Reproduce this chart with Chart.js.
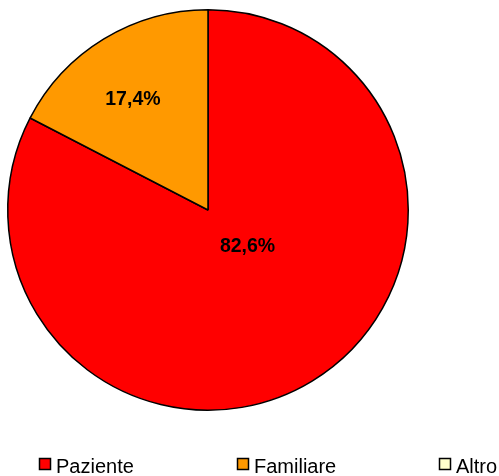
<!DOCTYPE html>
<html>
<head>
<meta charset="utf-8">
<script src="https://cdn.jsdelivr.net/npm/chart.js@4/dist/chart.umd.min.js"></script>
<style>
  html, body { margin: 0; padding: 0; background: #fff; }
  canvas { display: block; }
</style>
</head>
<body>
<canvas id="pieChart" width="499" height="476"></canvas>
<script>
// chart data
const categories = ['Paziente', 'Familiare', 'Altro'];
const percentages = [82.6, 17.4, 0];
const sliceColors = ['#FF0000', '#FF9900', '#FFFFCC'];

// where each value label sits: fraction of radius and angle shift (deg) from slice middle
const labelPlacement = [
    { r: 0.27, shift: -15.7 },
    { r: 0.665, shift: -3 },
    { r: 0.5, shift: 0 }
];
// legend item left edges
const legendX = [39, 237, 439];

const valueLabels = {
    id: 'valueLabels',
    afterDatasetsDraw(chart) {
        const ctx = chart.ctx;
        const meta = chart.getDatasetMeta(0);
        ctx.save();
        ctx.font = 'bold 19.5px "Liberation Sans", Arial, sans-serif';
        ctx.fillStyle = '#000';
        ctx.textAlign = 'center';
        ctx.textBaseline = 'middle';
        meta.data.forEach((arc, i) => {
            if (!percentages[i]) return;
            const p = arc.getProps(['x', 'y', 'startAngle', 'endAngle', 'outerRadius'], true);
            const mid = (p.startAngle + p.endAngle) / 2 + labelPlacement[i].shift * Math.PI / 180;
            const d = p.outerRadius * labelPlacement[i].r;
            const x = p.x + Math.cos(mid) * d;
            const y = p.y + Math.sin(mid) * d;
            ctx.fillText(percentages[i].toFixed(1).replace('.', ',') + '%', x, y);
        });
        ctx.restore();
    }
};

const bottomLegend = {
    id: 'bottomLegend',
    afterDraw(chart) {
        const ctx = chart.ctx;
        ctx.save();
        ctx.font = '20px "Liberation Sans", Arial, sans-serif';
        ctx.textBaseline = 'alphabetic';
        ctx.textAlign = 'left';
        categories.forEach((name, i) => {
            const x = legendX[i];
            ctx.fillStyle = sliceColors[i];
            ctx.fillRect(x + 0.5, 458.5, 11, 11);
            ctx.strokeStyle = '#000';
            ctx.lineWidth = 1.5;
            ctx.strokeRect(x + 0.5, 458.5, 11, 11);
            ctx.fillStyle = '#000';
            ctx.fillText(name, x + 17, 473);
        });
        ctx.restore();
    }
};

const ctx = document.getElementById('pieChart').getContext('2d');
const pieChart = new Chart(ctx, {
    type: 'pie',
    data: {
        labels: categories,
        datasets: [{
            data: percentages,
            backgroundColor: sliceColors,
            borderColor: '#000000',
            borderWidth: 1.5
        }]
    },
    options: {
        responsive: false,
        animation: false,
        layout: {
            padding: { left: 7, top: 9, right: 90, bottom: 65 }
        },
        plugins: {
            legend: { display: false },
            tooltip: { enabled: false }
        }
    },
    plugins: [valueLabels, bottomLegend]
});
</script>
</body>
</html>
